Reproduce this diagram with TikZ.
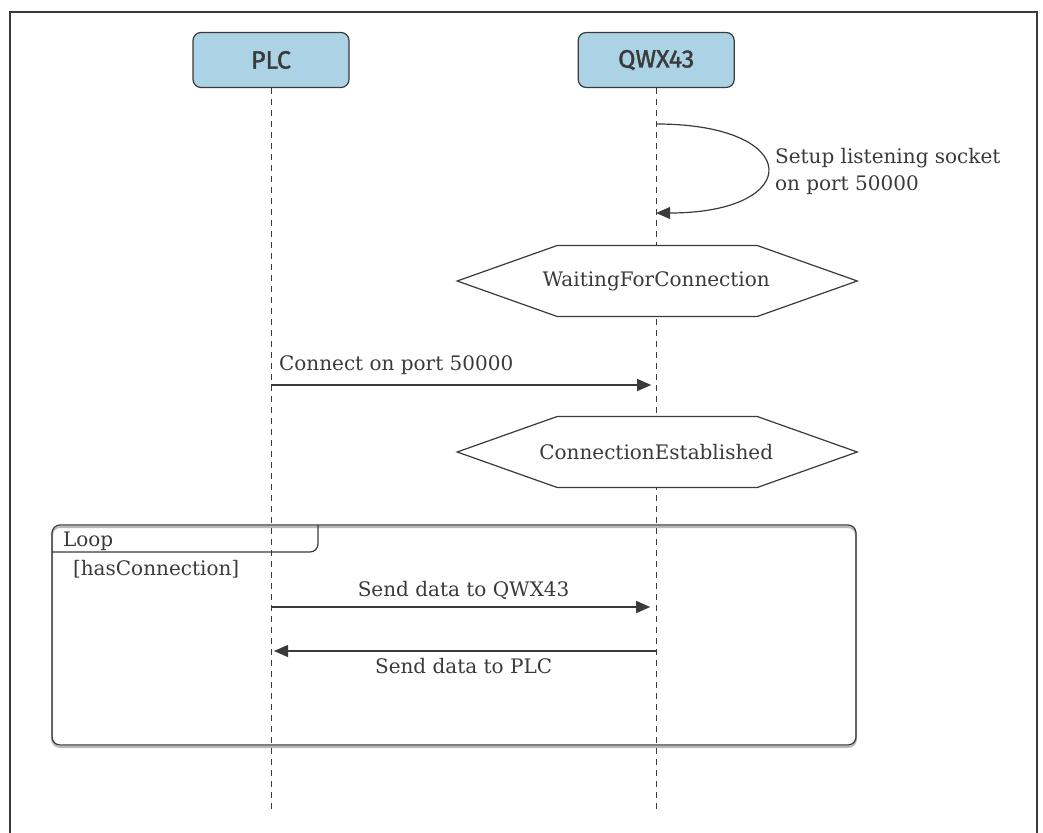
\documentclass[tikz,border=0pt]{standalone}
\usepackage{fontspec}
\setmainfont{DejaVu Serif}
\newfontfamily\headfont[FakeBold=1.6]{Fira Sans}
\usetikzlibrary{positioning, arrows.meta}
\definecolor{headblue}{RGB}{171,211,229}
\definecolor{inkgray}{RGB}{58,58,58}
\tikzset{x=0.5pt, y=-0.5pt, % one unit is one pixel of the drawing, y runs down
every node/.style={ % Sets the text of all labels
text=inkgray,
font=\fontsize{10}{13.5}\selectfont},
actor/.style={ % Head boxes of the lifelines
draw=inkgray, semithick,
fill=headblue,
rounded corners=4pt,
minimum width=78pt, minimum height=27.5pt,
font=\headfont\fontsize{12.5}{14}\selectfont},
lifeline/.style={draw=inkgray, thin, dash pattern=on 3pt off 2.5pt},
msg/.style={ % Messages between the lifelines
draw=inkgray, semithick,
-{Triangle[length=7pt,width=6pt]}},
hexa/.style={draw=inkgray, semithick, fill=white},
frame/.style={draw=inkgray, semithick, rounded corners=4pt}}

\begin{document}
\begin{tikzpicture}
    \useasboundingbox (0,0) rectangle (1043,833);
    \draw[inkgray, line width=1pt] (9.5,833) -- (9.5,12) -- (1037,12) -- (1037,833);

    \node[actor] (plc) at (271,60) {PLC};
    \node[actor, right=114pt of plc] (qwx) {QWX43};

    \coordinate (plc end) at (plc |- 0,813);
    \coordinate (qwx end) at (qwx |- 0,813);
    \draw[lifeline] (plc) -- (plc end);
    \draw[lifeline] (qwx) -- (qwx end);

    % self message
    \coordinate (s1) at (qwx |- 0,124);
    \coordinate (s2) at (qwx |- 0,213);
    \draw[msg] (s1) .. controls +(148,0) and +(148,0) .. (s2);
    \node[anchor=west, align=left] (setup) at (768,171) {Setup listening socket\\on port 50000};

    % states
    \coordinate (waitc) at (qwx |- 0,281);
    \draw[hexa] (waitc) ++(-199,0) -- ++(100,-35.5) -- ++(200,0) -- ++(100,35.5)
        -- ++(-100,35.5) -- ++(-200,0) -- cycle;
    \node (wait) at (waitc) {WaitingForConnection};

    \coordinate (c1) at (plc |- 0,385);
    \coordinate (c2) at (qwx |- 0,385);
    \draw[msg, shorten >=2.5pt] (c1) -- (c2);
    \node[anchor=base west] (connect) at (272,371) {Connect on port 50000};

    \coordinate (estc) at (qwx |- 0,452);
    \draw[hexa] (estc) ++(-199,0) -- ++(100,-35.5) -- ++(200,0) -- ++(100,35.5)
        -- ++(-100,35.5) -- ++(-200,0) -- cycle;
    \node (est) at (estc) {ConnectionEstablished};

    % loop frame
    \draw[frame, gray!55, line width=1pt] (52,527) rectangle (856,747);
    \draw[frame] (52,525) rectangle (856,745);
    \draw[frame] (52,552) -- (318,552) -- (318,525);
    \node[anchor=base west] (loop) at (56,546) {Loop};
    \node[anchor=base west] (guard) at (66,575) {[hasConnection]};

    \coordinate (d1) at (plc |- 0,607);
    \coordinate (d2) at (qwx |- 0,607);
    \draw[msg, shorten >=3pt] (d1) -- node[above] {Send data to QWX43} (d2);

    \coordinate (e1) at (qwx |- 0,651);
    \coordinate (e2) at (plc |- 0,651);
    \draw[msg, shorten >=1.5pt] (e1) -- node[below] {Send data to PLC} (e2);

\end{tikzpicture}
\end{document}
